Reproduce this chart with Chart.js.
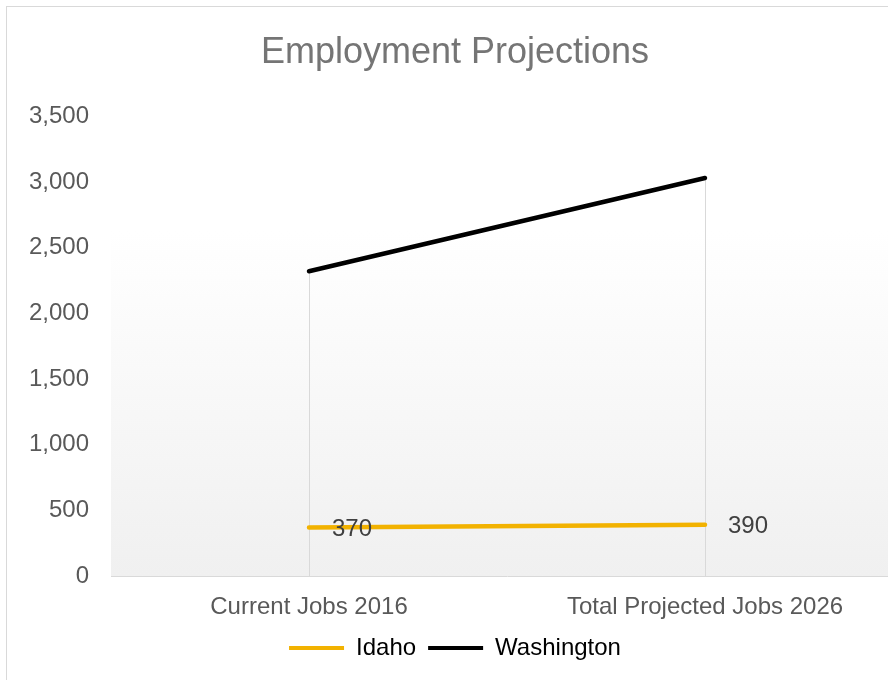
<!DOCTYPE html>
<html>
<head>
<meta charset="utf-8">
<script src="https://cdn.jsdelivr.net/npm/chart.js@4"></script>
<style>
  html, body { margin: 0; padding: 0; background: #fff; overflow: hidden; width: 888px; height: 680px; }
  #frame { position: absolute; left: 6px; top: 6px; width: 898px; height: 680px;
           border-left: 1px solid #d9d9d9; border-top: 1px solid #d9d9d9; }
  canvas { display: block; }
</style>
</head>
<body>
<div id="frame"><canvas id="empChart" width="898" height="680"></canvas></div>
<script>
// chart data
const categories = ['Current Jobs 2016', 'Total Projected Jobs 2026'];
const idaho = [370, 390];
const washington = [2320, 3030];
const yTicks = [0, 500, 1000, 1500, 2000, 2500, 3000, 3500];

const FONT = '"Liberation Sans", Arial, sans-serif';

// gradient fill behind the plot area
const plotBackground = {
  id: 'plotBackground',
  beforeDraw(chart) {
    const { ctx, chartArea: a } = chart;
    const g = ctx.createLinearGradient(0, a.top, 0, a.bottom);
    g.addColorStop(0, '#ffffff');
    g.addColorStop(0.25, '#ffffff');
    g.addColorStop(1, '#f0f0f0');
    ctx.save();
    ctx.fillStyle = g;
    ctx.fillRect(a.left, a.top, a.right - a.left, a.bottom - a.top);
    ctx.restore();
  }
};

// drop lines from the highest point at each category down to the axis
const dropLines = {
  id: 'dropLines',
  beforeDatasetsDraw(chart) {
    const { ctx, chartArea: a } = chart;
    const xs = chart.scales.x, ys = chart.scales.y;
    ctx.save();
    ctx.strokeStyle = '#d9d9d9';
    ctx.lineWidth = 1;
    categories.forEach((c, i) => {
      const top = Math.max(...chart.data.datasets.map(d => d.data[i]));
      const x = Math.round(xs.getPixelForValue(i)) + 0.5;
      ctx.beginPath();
      ctx.moveTo(x, ys.getPixelForValue(top));
      ctx.lineTo(x, a.bottom);
      ctx.stroke();
    });
    ctx.restore();
  }
};

// value labels for Idaho
const valueLabels = {
  id: 'valueLabels',
  afterDatasetsDraw(chart) {
    const { ctx } = chart;
    const meta = chart.getDatasetMeta(0);
    ctx.save();
    ctx.fillStyle = '#404040';
    ctx.font = '24px ' + FONT;
    ctx.textAlign = 'left';
    ctx.textBaseline = 'middle';
    meta.data.forEach((pt, i) => {
      ctx.fillText(idaho[i], pt.x + 23, pt.y + 2);
    });
    ctx.restore();
  }
};

new Chart(document.getElementById('empChart'), {
  type: 'line',
  data: {
    labels: categories,
    datasets: [
      {
        label: 'Idaho',
        data: idaho,
        borderColor: '#f2b200',
        backgroundColor: '#f2b200',
        borderWidth: 4.5,
        pointRadius: 0,
        borderCapStyle: 'round'
      },
      {
        label: 'Washington',
        data: washington,
        borderColor: '#000000',
        backgroundColor: '#000000',
        borderWidth: 4.5,
        pointRadius: 0,
        borderCapStyle: 'round'
      }
    ]
  },
  options: {
    responsive: false,
    animation: false,
    layout: { padding: { left: 0, right: 2, top: 0, bottom: 17 } },
    plugins: {
      title: {
        display: true,
        text: 'Employment Projections',
        color: '#757575',
        font: { family: FONT, size: 36, weight: 'normal' },
        padding: { top: 24, bottom: 42 }
      },
      legend: {
        position: 'bottom',
        labels: {
          color: '#404040',
          font: { family: FONT, size: 24 },
          boxWidth: 55,
          boxHeight: 4,
          padding: 12,
          generateLabels(chart) {
            return chart.data.datasets.map((d, i) => ({
              text: d.label,
              fillStyle: d.borderColor,
              strokeStyle: d.borderColor,
              lineWidth: 0,
              datasetIndex: i
            }));
          }
        }
      },
      tooltip: { enabled: false }
    },
    scales: {
      x: {
        offset: true,
        grid: { display: false },
        border: { display: true, color: '#d9d9d9', width: 1 },
        ticks: { color: '#595959', font: { family: FONT, size: 24 }, padding: 9, maxRotation: 0 },
        afterFit(axis) { axis.height = 48; }
      },
      y: {
        min: 0,
        max: 3500,
        afterBuildTicks(axis) { axis.ticks = yTicks.map(v => ({ value: v })); },
        grid: { display: false, drawTicks: false },
        border: { display: false },
        ticks: {
          color: '#595959',
          font: { family: FONT, size: 24 },
          padding: 22,
          callback: v => v.toLocaleString('en-US')
        },
        afterFit(axis) { axis.width = 104; }
      }
    }
  },
  plugins: [plotBackground, dropLines, valueLabels]
});
</script>
</body>
</html>
